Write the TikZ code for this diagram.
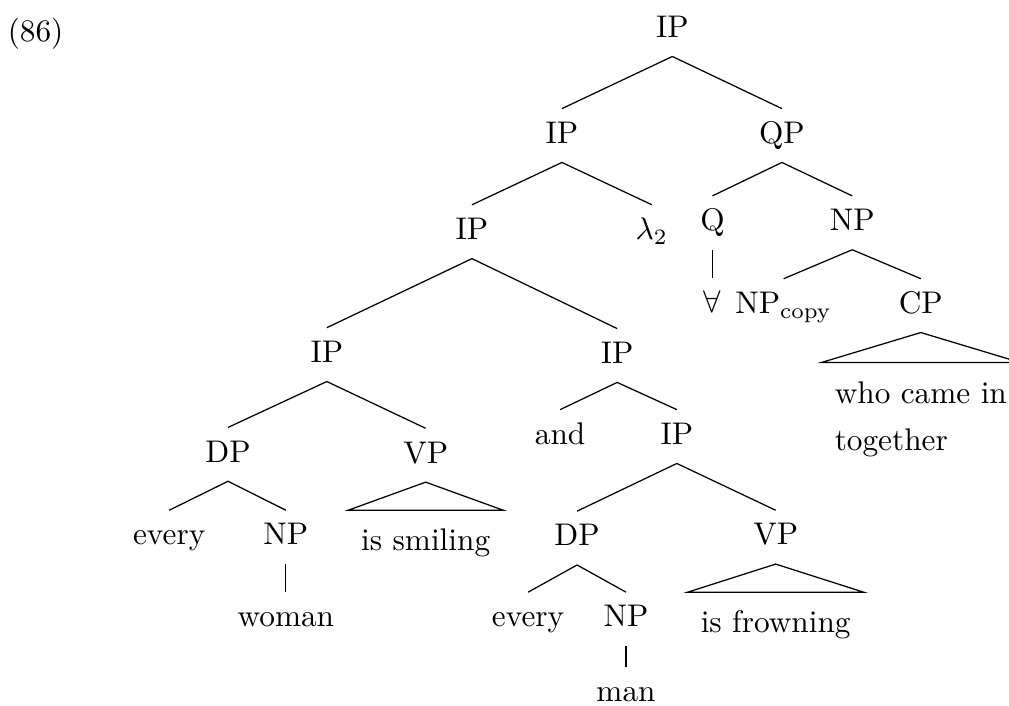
\documentclass[tikz,border=0pt]{standalone}
\usetikzlibrary{positioning}

\begin{document}
\begin{tikzpicture}[
    cat/.style={text height=8.5pt, text depth=3.5pt, inner ysep=2.4pt, anchor=base},
    roof/.style={text height=8.5pt, text depth=3.5pt, inner xsep=4pt, inner ysep=4.3pt, anchor=north},
    roofml/.style={inner xsep=4pt, inner ysep=4.4pt, anchor=north, align=left}
]
\useasboundingbox (0,0) rectangle (11.33,7.92);

% ---- Example number ----
\node[anchor=base west, inner sep=0pt] (exnum) at (0.08,7.45) {(86)};

% ---- Upper part ----
\node[cat] (ipA) at (7.55,7.50) {IP};
\node[cat] (ipB) at (6.31,6.31) {IP};
\node[cat] (qp) at (8.78,6.31) {QP};
\draw (ipA.south) -- (ipB.north);
\draw (ipA.south) -- (qp.north);

\node[cat] (ipC) at (5.30,5.23) {IP};
\node[cat] (lam) at (7.32,5.23) {$\lambda_2$};
\draw (ipB.south) -- (ipC.north);
\draw (ipB.south) -- (lam.north);

% ---- Quantifier phrase ----
\node[cat] (q) at (8.00,5.33) {Q};
\node[cat] (npQ) at (9.57,5.33) {NP};
\draw (qp.south) -- (q.north);
\draw (qp.south) -- (npQ.north);

\node[cat] (forall) at (8.00,4.41) {$\forall$};
\draw (q.south) -- (forall.north);

\node[cat] (npcopy) at (8.80,4.40) {NP$_{\mathrm{copy}}$};
\node[cat] (cp) at (10.34,4.40) {CP};
\draw (npQ.south) -- (npcopy.north);
\draw (npQ.south) -- (cp.north);

\node[roofml] (cproof) at (10.34,3.85) {\strut who came in\\[3pt]together};
\draw (cp.south) -- (cproof.north west) -- (cproof.north east) -- cycle;

% ---- Conjunction ----
\node[cat] (ipD) at (3.67,3.85) {IP};
\node[cat] (ipE) at (6.93,3.84) {IP};
\draw (ipC.south) -- (ipD.north);
\draw (ipC.south) -- (ipE.north);

% ---- First conjunct ----
\node[cat] (dpA) at (2.56,2.73) {DP};
\node[cat] (vpA) at (4.78,2.72) {VP};
\draw (ipD.south) -- (dpA.north);
\draw (ipD.south) -- (vpA.north);

\node[cat] (everyA) at (1.90,1.80) {every};
\node[cat] (npA) at (3.21,1.80) {NP};
\draw (dpA.south) -- (everyA.north);
\draw (dpA.south) -- (npA.north);

\node[cat] (woman) at (3.21,0.88) {woman};
\draw (npA.south) -- (woman.north);

\node[roof] (smile) at (4.78,2.19) {is smiling};
\draw (vpA.south) -- (smile.north west) -- (smile.north east) -- cycle;

% ---- Second conjunct ----
\node[cat] (andw) at (6.29,2.93) {and};
\node[cat] (ipF) at (7.60,2.93) {IP};
\draw (ipE.south) -- (andw.north);
\draw (ipE.south) -- (ipF.north);

\node[cat] (dpB) at (6.48,1.79) {DP};
\node[cat] (vpB) at (8.71,1.80) {VP};
\draw (ipF.south) -- (dpB.north);
\draw (ipF.south) -- (vpB.north);

\node[cat] (everyB) at (5.93,0.88) {every};
\node[cat] (npB) at (7.03,0.88) {NP};
\draw (dpB.south) -- (everyB.north);
\draw (dpB.south) -- (npB.north);

\node[cat] (man) at (7.03,0.04) {man};
\draw (npB.south) -- (man.north);

\node[roof] (frown) at (8.71,1.27) {is frowning};
\draw (vpB.south) -- (frown.north west) -- (frown.north east) -- cycle;

\end{tikzpicture}
\end{document}
